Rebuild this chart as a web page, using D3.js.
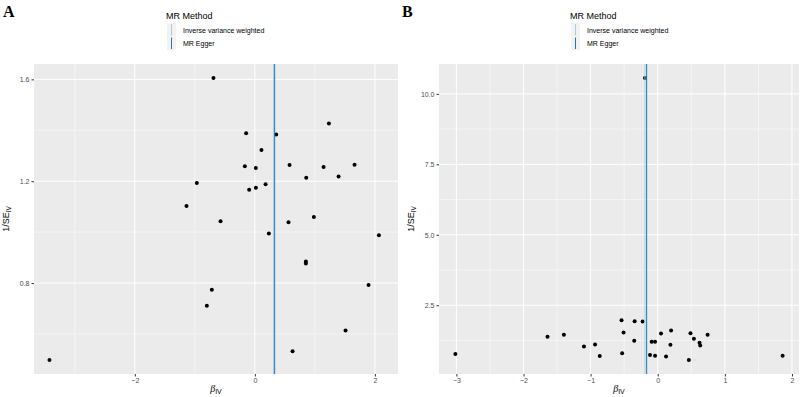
<!DOCTYPE html>
<html lang="en">
<head>
    <meta charset="UTF-8">
    <title>MR funnel plots</title>
    <script src="https://d3js.org/d3.v7.min.js"></script>
    <style>
        body { margin: 0; background: #fff; }
        svg { font-family: "Liberation Sans", Arial, sans-serif; }
        .tick text { fill: #4d4d4d; font-size: 7px; }
        .tick line { stroke: #333; }
        .domain { display: none; }
    </style>
</head>
<body>
<svg id="chart" width="800" height="397"></svg>
<script>
// Panel A: beta_IV and 1/SE_IV per SNP
const betaA = [-0.69, -0.145, 0.355, 1.233, 0.11, -0.167, 0.017, 0.578, 1.145, 1.661,
    0.856, 1.395, -0.967, 0.178, 0.017, -0.095, -1.139, -0.572, 0.561, 0.983,
    0.233, 2.067, 0.85, 0.85, -0.717, -0.8, 1.894, 1.511, 0.628, -3.422];
const precA = [1.605, 1.388, 1.383, 1.427, 1.323, 1.259, 1.252, 1.264, 1.256, 1.265,
    1.214, 1.218, 1.193, 1.188, 1.174, 1.166, 1.103, 1.043, 1.039, 1.059,
    0.995, 0.988, 0.885, 0.877, 0.774, 0.711, 0.792, 0.614, 0.532, 0.498];

// Panel B
const betaB = [-3.015, -1.642, -1.398, -1.099, -0.934, -0.864, -0.539, -0.509, -0.53, -0.344,
    -0.35, -0.225, -0.115, -0.09, -0.04, -0.04, 0.049, 0.199, 0.189, 0.124,
    0.464, 0.488, 0.539, 0.623, 0.633, 0.743, 1.861, -0.19];
const precB = [0.77, 1.38, 1.45, 1.04, 1.11, 0.70, 1.97, 1.53, 0.80, 1.93,
    1.24, 1.92, 0.73, 1.20, 1.20, 0.71, 1.50, 1.60, 1.10, 0.68,
    0.56, 1.51, 1.31, 1.17, 1.07, 1.45, 0.71, 10.56];

// MR estimates (vertical lines)
const methods = ["Inverse variance weighted", "MR Egger"];
const methodColors = ["#a6cee3", "#1f78b4"];
const estA = [0.31, 0.33];
const estB = [-0.19, -0.165];

const xTicksA = [-2, 0, 2], yTicksA = [0.8, 1.2, 1.6];
const xTicksB = [-3, -2, -1, 0, 1, 2], yTicksB = [2.5, 5.0, 7.5, 10.0];
const xDomainA = [-3.68, 2.385];

const svg = d3.select("#chart");

function expand(vals) {
    const [lo, hi] = d3.extent(vals);
    const pad = (hi - lo) * 0.05;
    return [lo - pad, hi + pad];
}

function drawPanel(o) {
    const g = svg.append("g");
    const x = d3.scaleLinear().domain(o.xDomain || expand(o.beta)).range([o.left, o.right]);
    const y = d3.scaleLinear().domain(expand(o.prec)).range([374, 64]);

    // panel background
    g.append("rect")
        .attr("x", o.left).attr("y", 64)
        .attr("width", o.right - o.left).attr("height", 310)
        .attr("fill", "#ebebeb");

    // minor grid
    const xMinor = o.xTicks.slice(0, -1).map((t, i) => (t + o.xTicks[i + 1]) / 2);
    xMinor.unshift(o.xTicks[0] - (o.xTicks[1] - o.xTicks[0]) / 2);
    xMinor.push(o.xTicks[o.xTicks.length - 1] + (o.xTicks[1] - o.xTicks[0]) / 2);
    const yMinor = o.yTicks.slice(0, -1).map((t, i) => (t + o.yTicks[i + 1]) / 2);
    yMinor.unshift(o.yTicks[0] - (o.yTicks[1] - o.yTicks[0]) / 2);
    yMinor.push(o.yTicks[o.yTicks.length - 1] + (o.yTicks[1] - o.yTicks[0]) / 2);

    const xd = x.domain(), yd = y.domain();
    g.selectAll(".xminor").data(xMinor.filter(v => v > xd[0] && v < xd[1])).enter()
        .append("line")
        .attr("x1", d => x(d)).attr("x2", d => x(d))
        .attr("y1", 64).attr("y2", 374)
        .attr("stroke", "#fff").attr("stroke-width", 0.5);
    g.selectAll(".yminor").data(yMinor.filter(v => v > yd[0] && v < yd[1])).enter()
        .append("line")
        .attr("x1", o.left).attr("x2", o.right)
        .attr("y1", d => y(d)).attr("y2", d => y(d))
        .attr("stroke", "#fff").attr("stroke-width", 0.5);

    // major grid
    g.selectAll(".xmajor").data(o.xTicks).enter()
        .append("line")
        .attr("x1", d => x(d)).attr("x2", d => x(d))
        .attr("y1", 64).attr("y2", 374)
        .attr("stroke", "#fff").attr("stroke-width", 1);
    g.selectAll(".ymajor").data(o.yTicks).enter()
        .append("line")
        .attr("x1", o.left).attr("x2", o.right)
        .attr("y1", d => y(d)).attr("y2", d => y(d))
        .attr("stroke", "#fff").attr("stroke-width", 1);

    // points
    g.selectAll("circle").data(o.beta.map((b, i) => [b, o.prec[i]])).enter()
        .append("circle")
        .attr("cx", d => x(d[0])).attr("cy", d => y(d[1]))
        .attr("r", 2).attr("fill", "#000");

    // estimate lines
    g.selectAll(".est").data(o.est).enter()
        .append("line")
        .attr("x1", d => x(d)).attr("x2", d => x(d))
        .attr("y1", 64).attr("y2", 374)
        .attr("stroke", (d, i) => methodColors[i]).attr("stroke-width", 1);

    // axes
    g.append("g").attr("transform", "translate(0,374)")
        .call(d3.axisBottom(x).tickValues(o.xTicks).tickSize(2.5).tickPadding(2)
            .tickFormat(d => d3.format("d")(d)));
    g.append("g").attr("transform", `translate(${o.left},0)`)
        .call(d3.axisLeft(y).tickValues(o.yTicks).tickSize(2.5).tickPadding(2)
            .tickFormat(o.yFmt));

    // axis titles
    const cx = (o.left + o.right) / 2;
    const xt = g.append("text").attr("x", cx).attr("y", 392)
        .attr("text-anchor", "middle").attr("font-size", 10).attr("fill", "#000");
    xt.append("tspan").attr("font-style", "italic").attr("font-family", "Liberation Serif").text("β");
    xt.append("tspan").attr("font-size", 7).attr("dy", 2).text("IV");

    const yt = g.append("text")
        .attr("transform", `translate(${o.left - 25},219) rotate(-90)`)
        .attr("text-anchor", "middle").attr("font-size", 9).attr("fill", "#000");
    yt.append("tspan").text("1/SE");
    yt.append("tspan").attr("font-size", 6.5).attr("dy", 2).text("IV");

    // panel tag
    svg.append("text").attr("x", o.tagX).attr("y", 17)
        .attr("font-family", "Liberation Serif").attr("font-weight", "bold")
        .attr("font-size", 16).text(o.tag);

    // legend
    const lx = o.legendX;
    const leg = svg.append("g");
    leg.append("text").attr("x", lx).attr("y", 19).attr("font-size", 9).attr("fill", "#000")
        .text("MR Method");
    leg.selectAll("rect").data(methods).enter().append("rect")
        .attr("x", lx + 1).attr("y", (d, i) => 23 + i * 13.5)
        .attr("width", 9).attr("height", 13.5).attr("fill", "#f2f2f2");
    leg.selectAll(".key").data(methods).enter().append("line")
        .attr("x1", lx + 5.5).attr("x2", lx + 5.5)
        .attr("y1", (d, i) => 24 + i * 13.5).attr("y2", (d, i) => 35.5 + i * 13.5)
        .attr("stroke", (d, i) => methodColors[i]).attr("stroke-width", 1);
    leg.selectAll(".lab").data(methods).enter().append("text")
        .attr("x", lx + 17).attr("y", (d, i) => 32.5 + i * 13.5)
        .attr("font-size", 7).attr("fill", "#000").text(d => d);
}

drawPanel({ beta: betaA, prec: precA, est: estA, left: 34, right: 398, xDomain: xDomainA,
    xTicks: xTicksA, yTicks: yTicksA, yFmt: d3.format(".1f"),
    tag: "A", tagX: 3, legendX: 166 });
drawPanel({ beta: betaB, prec: precB, est: estB, left: 439, right: 799,
    xTicks: xTicksB, yTicks: yTicksB, yFmt: d3.format(".1f"),
    tag: "B", tagX: 402, legendX: 570 });
</script>
</body>
</html>
